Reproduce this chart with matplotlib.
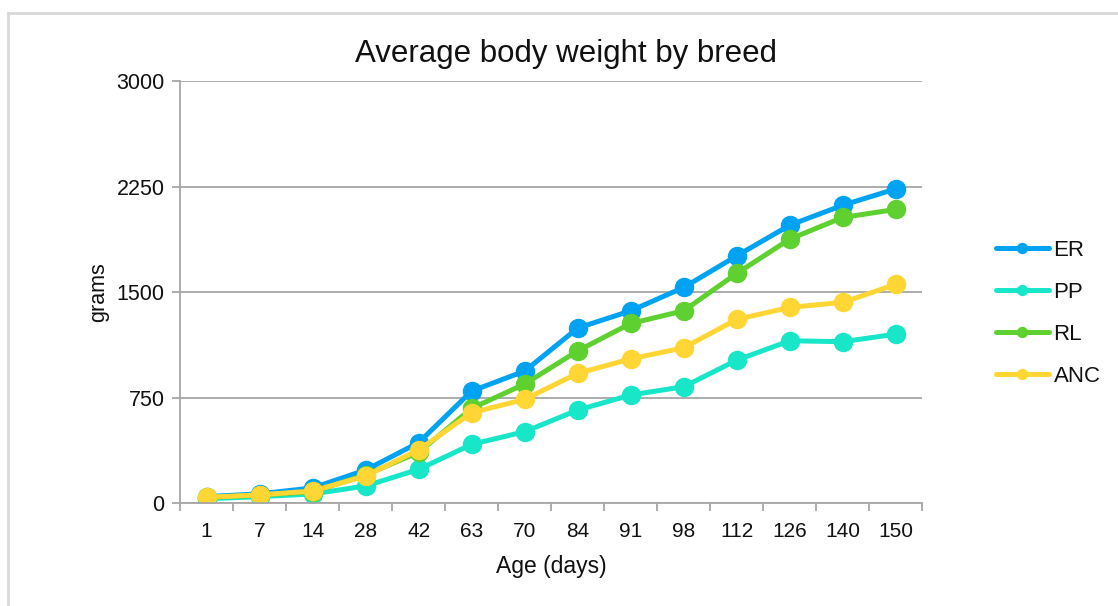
import matplotlib.pyplot as plt
from matplotlib.lines import Line2D

plt.rcParams['font.family'] = ['Liberation Sans', 'DejaVu Sans']

# age in days (categorical x axis)
ages = ['1', '7', '14', '28', '42', '63', '70', '84', '91', '98', '112', '126', '140', '150']

# average body weight, grams
er = [45, 65, 107, 234, 429, 796, 938, 1244, 1367, 1533, 1758, 1976, 2118, 2234]
pp = [30, 45, 64, 121, 239, 417, 507, 661, 768, 827, 1016, 1154, 1147, 1201]
rl = [40, 55, 80, 200, 360, 673, 846, 1082, 1277, 1367, 1633, 1877, 2031, 2088]
anc = [40, 58, 85, 192, 377, 642, 737, 922, 1025, 1104, 1306, 1391, 1427, 1555]

series = [('ER', er, '#00a2f2'), ('PP', pp, '#17e6c9'),
          ('RL', rl, '#5ed130'), ('ANC', anc, '#ffd633')]

fig = plt.figure(figsize=(11.18, 6.06), dpi=100)
ax = fig.add_axes([0.161, 0.170, 0.664, 0.696])

x = list(range(len(ages)))
for name, vals, col in series:
    ax.plot(x, vals, color=col, lw=3.6, marker='o', ms=13,
            mec=col, mfc=col, label=name, solid_capstyle='round')

ax.set_xlim(-0.5, len(ages) - 0.5)
ax.set_ylim(0, 3000)
ax.set_yticks([0, 750, 1500, 2250, 3000])
ax.yaxis.grid(True, color='#a6a6a6', lw=1.3)
ax.set_axisbelow(True)

# tick marks between categories, labels at centres
ax.set_xticks([i - 0.5 for i in range(len(ages) + 1)])
ax.set_xticklabels([])
ax.set_xticks(x, minor=True)
ax.set_xticklabels(ages, minor=True)
ax.tick_params(axis='x', which='major', length=6, color='#a6a6a6', width=1.3)
ax.tick_params(axis='x', which='minor', length=0, pad=14, labelsize=15, labelcolor='#111111')
ax.tick_params(axis='y', length=6, color='#a6a6a6', width=1.3, labelsize=15.5,
               labelcolor='#111111', pad=5)

for s in ['top', 'right']:
    ax.spines[s].set_visible(False)
for s in ['left', 'bottom']:
    ax.spines[s].set_color('#a6a6a6')
    ax.spines[s].set_linewidth(1.3)

ax.set_xlabel('Age (days)', fontsize=16.5, labelpad=10, color='#111111')
ax.set_ylabel('grams', fontsize=15.5, labelpad=5, color='#111111')
ax.set_title('Average body weight by breed', fontsize=22.5, pad=14, color='#111111', x=0.52)

ax.legend(loc='center left', bbox_to_anchor=(1.072, 0.45), frameon=False,
          fontsize=16, handlelength=2.4, labelspacing=0.95, markerscale=0.55,
          handletextpad=0.2, labelcolor='#111111')

# light frame around the chart area
fig.add_artist(Line2D([8 / 1118, 8 / 1118], [0, 1 - 13 / 606],
                      transform=fig.transFigure, color='#d9d9d9', lw=2))
fig.add_artist(Line2D([8 / 1118, 1], [1 - 13 / 606, 1 - 13 / 606],
                      transform=fig.transFigure, color='#d9d9d9', lw=2))

fig.savefig('out.png', dpi=100)
